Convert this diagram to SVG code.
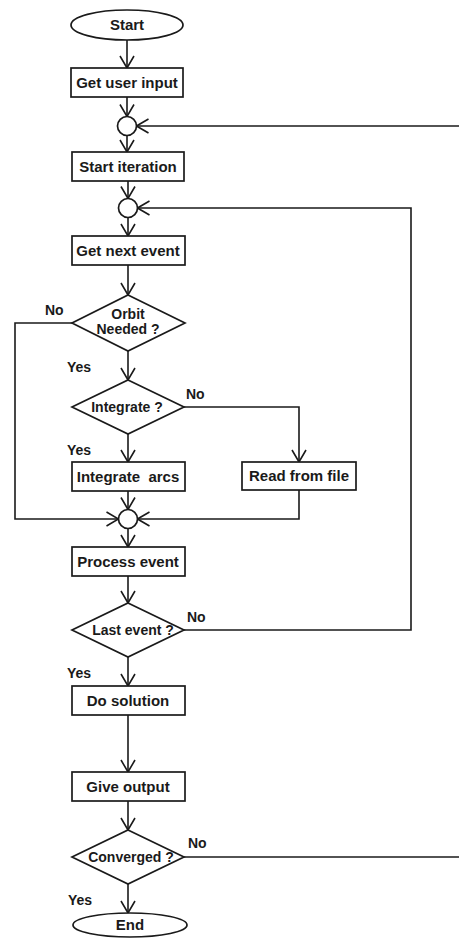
<svg xmlns="http://www.w3.org/2000/svg" width="459" height="938" viewBox="0 0 459 938">
<style>
  .shape{fill:#fff;stroke:#1a1a1a;stroke-width:1.7}
  .conn{fill:none;stroke:#1a1a1a;stroke-width:1.6}
  .t{font-family:"Liberation Sans",Arial,sans-serif;font-weight:bold;font-size:15px;fill:#1a1a1a;text-anchor:middle}
  .d{font-size:14px}
  .lbl{font-family:"Liberation Sans",Arial,sans-serif;font-weight:bold;font-size:14px;fill:#1a1a1a}
</style>
<defs>
  <marker id="arr" markerUnits="userSpaceOnUse" markerWidth="14" markerHeight="16" refX="13" refY="8" orient="auto">
    <path d="M1,1 L13,8 L1,15" fill="none" stroke="#1a1a1a" stroke-width="1.6"/>
  </marker>
</defs>
<rect width="459" height="938" fill="#fff"/>
<g id="connectors">
  <line class="conn" x1="127" y1="40" x2="127" y2="68" marker-end="url(#arr)"/>
  <line class="conn" x1="127" y1="97" x2="127" y2="116.5" marker-end="url(#arr)"/>
  <line class="conn" x1="459" y1="126" x2="136.5" y2="126" marker-end="url(#arr)"/>
  <line class="conn" x1="127" y1="135.5" x2="127" y2="152" marker-end="url(#arr)"/>
  <line class="conn" x1="128" y1="181" x2="128" y2="198.5" marker-end="url(#arr)"/>
  <polyline class="conn" points="184,630 411,630 411,208 137.5,208" marker-end="url(#arr)"/>
  <line class="conn" x1="128" y1="217.5" x2="128" y2="236" marker-end="url(#arr)"/>
  <line class="conn" x1="128" y1="265" x2="128" y2="295" marker-end="url(#arr)"/>
  <polyline class="conn" points="72,323 15,323 15,519 118.5,519" marker-end="url(#arr)"/>
  <line class="conn" x1="128" y1="351" x2="128" y2="380" marker-end="url(#arr)"/>
  <polyline class="conn" points="184,407 299,407 299,462" marker-end="url(#arr)"/>
  <polyline class="conn" points="299,490 299,519 137.5,519" marker-end="url(#arr)"/>
  <line class="conn" x1="128" y1="434" x2="128" y2="462" marker-end="url(#arr)"/>
  <line class="conn" x1="128" y1="491" x2="128" y2="509.5" marker-end="url(#arr)"/>
  <line class="conn" x1="128" y1="528.5" x2="128" y2="547" marker-end="url(#arr)"/>
  <line class="conn" x1="128" y1="576" x2="128" y2="603" marker-end="url(#arr)"/>
  <line class="conn" x1="128" y1="657" x2="128" y2="686" marker-end="url(#arr)"/>
  <line class="conn" x1="128" y1="715" x2="128" y2="772" marker-end="url(#arr)"/>
  <line class="conn" x1="128" y1="801" x2="128" y2="830" marker-end="url(#arr)"/>
  <line class="conn" x1="184" y1="857" x2="459" y2="857"/>
  <line class="conn" x1="128" y1="884" x2="128" y2="913" marker-end="url(#arr)"/>
</g>
<g id="labels">
  <text class="lbl" x="45" y="315">No</text>
  <text class="lbl" x="67" y="372">Yes</text>
  <text class="lbl" x="186" y="399">No</text>
  <text class="lbl" x="67" y="455">Yes</text>
  <text class="lbl" x="187" y="622">No</text>
  <text class="lbl" x="67" y="678">Yes</text>
  <text class="lbl" x="188" y="848">No</text>
  <text class="lbl" x="68" y="905">Yes</text>
</g>
<g id="start">
  <ellipse class="shape" cx="127" cy="25" rx="56" ry="15"/>
  <text class="t" x="127" y="30">Start</text>
</g>
<g id="get-user-input">
  <rect class="shape" x="71" y="68" width="112" height="29"/>
  <text class="t" x="127" y="88">Get user input</text>
</g>
<g id="merge1">
  <circle class="shape" cx="127" cy="126" r="9.5"/>
</g>
<g id="start-iteration">
  <rect class="shape" x="72" y="152" width="112" height="29"/>
  <text class="t" x="128" y="172">Start iteration</text>
</g>
<g id="merge2">
  <circle class="shape" cx="128" cy="208" r="9.5"/>
</g>
<g id="get-next-event">
  <rect class="shape" x="72" y="236" width="113" height="29"/>
  <text class="t" x="128" y="256">Get next event</text>
</g>
<g id="orbit-needed">
  <polygon class="shape" points="128,295 185,323 128,351 72,323"/>
  <text class="t d" x="128" y="319">Orbit</text>
  <text class="t d" x="128" y="334">Needed ?</text>
</g>
<g id="integrate">
  <polygon class="shape" points="128,380 184,407 128,434 72,407"/>
  <text class="t d" x="127" y="412">Integrate ?</text>
</g>
<g id="integrate-arcs">
  <rect class="shape" x="72" y="462" width="113" height="29"/>
  <text class="t" x="128" y="482" xml:space="preserve">Integrate  arcs</text>
</g>
<g id="read-from-file">
  <rect class="shape" x="242" y="462" width="114" height="28"/>
  <text class="t" x="299" y="481">Read from file</text>
</g>
<g id="merge3">
  <circle class="shape" cx="128" cy="519" r="9.5"/>
</g>
<g id="process-event">
  <rect class="shape" x="72" y="547" width="113" height="29"/>
  <text class="t" x="128" y="567">Process event</text>
</g>
<g id="last-event">
  <polygon class="shape" points="128,603 184,630 128,657 72,630"/>
  <text class="t d" x="133" y="635">Last event ?</text>
</g>
<g id="do-solution">
  <rect class="shape" x="72" y="686" width="113" height="29"/>
  <text class="t" x="128" y="706">Do solution</text>
</g>
<g id="give-output">
  <rect class="shape" x="72" y="772" width="113" height="29"/>
  <text class="t" x="128" y="792">Give output</text>
</g>
<g id="converged">
  <polygon class="shape" points="128,830 184,857 128,884 72,857"/>
  <text class="t d" x="131" y="862">Converged ?</text>
</g>
<g id="end">
  <ellipse class="shape" cx="130" cy="925" rx="57" ry="12"/>
  <text class="t" x="130" y="930">End</text>
</g>
</svg>
